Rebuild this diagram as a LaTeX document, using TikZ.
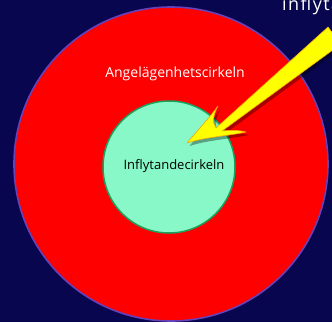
\documentclass[tikz,border=0pt]{standalone}
\usepackage{fontspec}
\setmainfont{Open Sans}
\definecolor{navybg}{RGB}{8,6,78}
\definecolor{ringred}{RGB}{255,0,0}
\definecolor{ringedge}{RGB}{104,64,184}
\definecolor{mint}{RGB}{136,248,200}
\definecolor{mintedge}{RGB}{28,160,92}
\definecolor{arrowfill}{RGB}{255,255,0}
\definecolor{arrowedge}{RGB}{240,170,0}
\tikzset{
  outerring/.style={fill=ringred, draw=ringedge, line width=1.6pt},
  innerring/.style={fill=mint, draw=mintedge, line width=1.5pt},
  ringlabel/.style={inner sep=0pt, font=\fontsize{14}{16}\selectfont, text=white},
  corelabel/.style={inner sep=0pt, font=\fontsize{13}{15}\selectfont, text=black},
  toplabel/.style={inner sep=0pt, anchor=base west,
    font=\fontsize{18}{20}\selectfont\addfontfeature{LetterSpace=8}, text=white},
  pointer/.style={fill=arrowfill, draw=arrowedge, line width=0.6pt, line join=round},
  pointershadow/.style={fill=black, opacity=0.35}
}
\begin{document}
\begin{tikzpicture}[x=1pt, y=-1pt]
  \useasboundingbox (0,0) rectangle (332,322);
  \clip (0,0) rectangle (332,322);
  \fill[navybg] (0,0) rectangle (332,322);

  % the two concentric circles
  \draw[outerring] (171,164) circle[radius=157];
  \draw[innerring] (169,167) circle[radius=66];

  \node[ringlabel] (outer) at (175,74) {Angelägenhetscirkeln};
  \node[corelabel] (core) at (174,166) {Inflytandecirkeln};
  \node[toplabel] (title) at (282,10) {inflytande};

  % swept arrow pointing into the inner circle
  \def\arrowpath{(187,143)
      .. controls (198,130) and (210,117) .. (218,106)
      .. controls (213,115) and (212,123) .. (216,128)
      -- (328,27) -- (341,44) -- (222,131)
      .. controls (230,130) and (238,130) .. (246,132)
      .. controls (228,136) and (205,137) .. (187,143) -- cycle}
  \begin{scope}[shift={(2.5,3)}]
    \fill[pointershadow] \arrowpath;
  \end{scope}
  \draw[pointer] \arrowpath;
\end{tikzpicture}
\end{document}
